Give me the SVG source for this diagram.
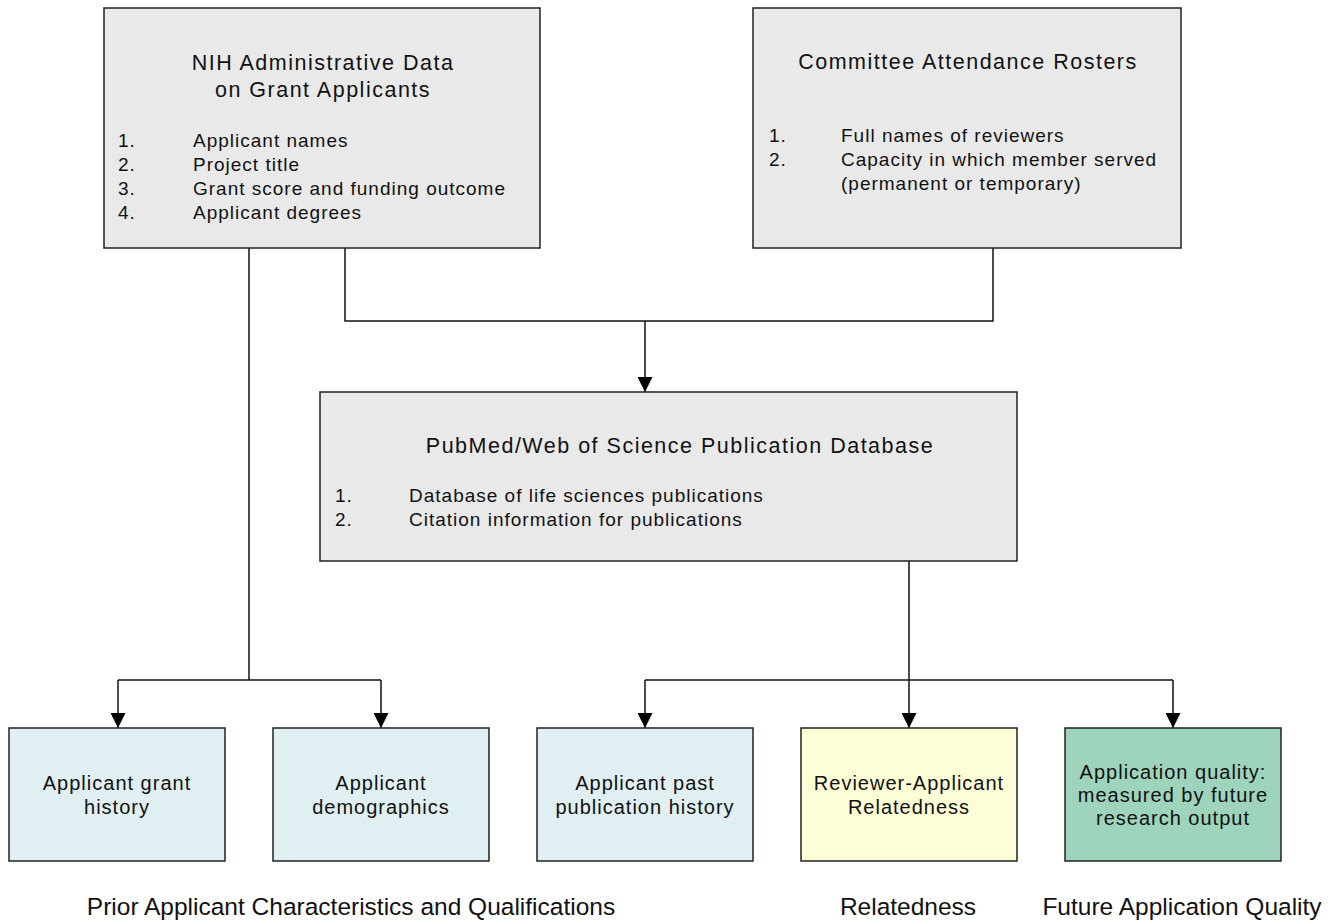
<svg xmlns="http://www.w3.org/2000/svg" width="1339" height="924" viewBox="0 0 1339 924">
<defs>
<marker id="arr" viewBox="0 0 10 10" refX="10" refY="5" markerWidth="15" markerHeight="15" markerUnits="userSpaceOnUse" orient="auto">
<path d="M0,0 L10,5 L0,10 z" fill="#000"/>
</marker>
<style>
.box{stroke:#222;stroke-width:1.5}
.gray{fill:#e9e9e9}
.blue{fill:#e0eff2}
.yellow{fill:#fefed6}
.green{fill:#9fd4bc}
text{font-family:"Liberation Sans",Arial,sans-serif;fill:#111}
.title{font-size:21.5px;letter-spacing:1.5px;text-anchor:middle}
.item{font-size:19px;letter-spacing:1px}
.lbl{font-size:20px;letter-spacing:1px;text-anchor:middle}
.cat{font-size:24.5px;text-anchor:middle}
.conn{fill:none;stroke:#111;stroke-width:1.5}
</style>
</defs>
<rect width="1339" height="924" fill="#fff"/>
<g id="connectors">
<path class="conn" d="M345,248 V321 H993 V248"/>
<path class="conn" d="M645,321 V392" marker-end="url(#arr)"/>
<path class="conn" d="M249,248 V680"/>
<path class="conn" d="M118,680 H381"/>
<path class="conn" d="M118,680 V728" marker-end="url(#arr)"/>
<path class="conn" d="M381,680 V728" marker-end="url(#arr)"/>
<path class="conn" d="M909,561 V728" marker-end="url(#arr)"/>
<path class="conn" d="M645,680 H1173"/>
<path class="conn" d="M645,680 V728" marker-end="url(#arr)"/>
<path class="conn" d="M1173,680 V728" marker-end="url(#arr)"/>
</g>
<g id="nih">
<rect class="box gray" x="104" y="8" width="436" height="240"/>
<text class="title" x="323" y="70">NIH Administrative Data</text>
<text class="title" x="323" y="97">on Grant Applicants</text>
<text class="item" x="118" y="147">1.</text><text class="item" x="193" y="147">Applicant names</text>
<text class="item" x="118" y="171">2.</text><text class="item" x="193" y="171">Project title</text>
<text class="item" x="118" y="195">3.</text><text class="item" x="193" y="195">Grant score and funding outcome</text>
<text class="item" x="118" y="219">4.</text><text class="item" x="193" y="219">Applicant degrees</text>
</g>
<g id="committee">
<rect class="box gray" x="753" y="8" width="428" height="240"/>
<text class="title" x="968" y="69">Committee Attendance Rosters</text>
<text class="item" x="769" y="142">1.</text><text class="item" x="841" y="142">Full names of reviewers</text>
<text class="item" x="769" y="166">2.</text><text class="item" x="841" y="166">Capacity in which member served</text>
<text class="item" x="841" y="190">(permanent or temporary)</text>
</g>
<g id="pubmed">
<rect class="box gray" x="320" y="392" width="697" height="169"/>
<text class="title" x="680" y="453">PubMed/Web of Science Publication Database</text>
<text class="item" x="335" y="502">1.</text><text class="item" x="409" y="502">Database of life sciences publications</text>
<text class="item" x="335" y="526">2.</text><text class="item" x="409" y="526">Citation information for publications</text>
</g>
<g id="grant-history">
<rect class="box blue" x="9" y="728" width="216" height="133"/>
<text class="lbl" x="117" y="790">Applicant grant</text>
<text class="lbl" x="117" y="814">history</text>
</g>
<g id="demographics">
<rect class="box blue" x="273" y="728" width="216" height="133"/>
<text class="lbl" x="381" y="790">Applicant</text>
<text class="lbl" x="381" y="814">demographics</text>
</g>
<g id="publication-history">
<rect class="box blue" x="537" y="728" width="216" height="133"/>
<text class="lbl" x="645" y="790">Applicant past</text>
<text class="lbl" x="645" y="814">publication history</text>
</g>
<g id="relatedness">
<rect class="box yellow" x="801" y="728" width="216" height="133"/>
<text class="lbl" x="909" y="790">Reviewer-Applicant</text>
<text class="lbl" x="909" y="814">Relatedness</text>
</g>
<g id="quality">
<rect class="box green" x="1065" y="728" width="216" height="133"/>
<text class="lbl" x="1173" y="779">Application quality:</text>
<text class="lbl" x="1173" y="802">measured by future</text>
<text class="lbl" x="1173" y="825">research output</text>
</g>
<g id="categories">
<text class="cat" x="351" y="915">Prior Applicant Characteristics and Qualifications</text>
<text class="cat" x="908" y="915">Relatedness</text>
<text class="cat" x="1182" y="915">Future Application Quality</text>
</g>
</svg>
